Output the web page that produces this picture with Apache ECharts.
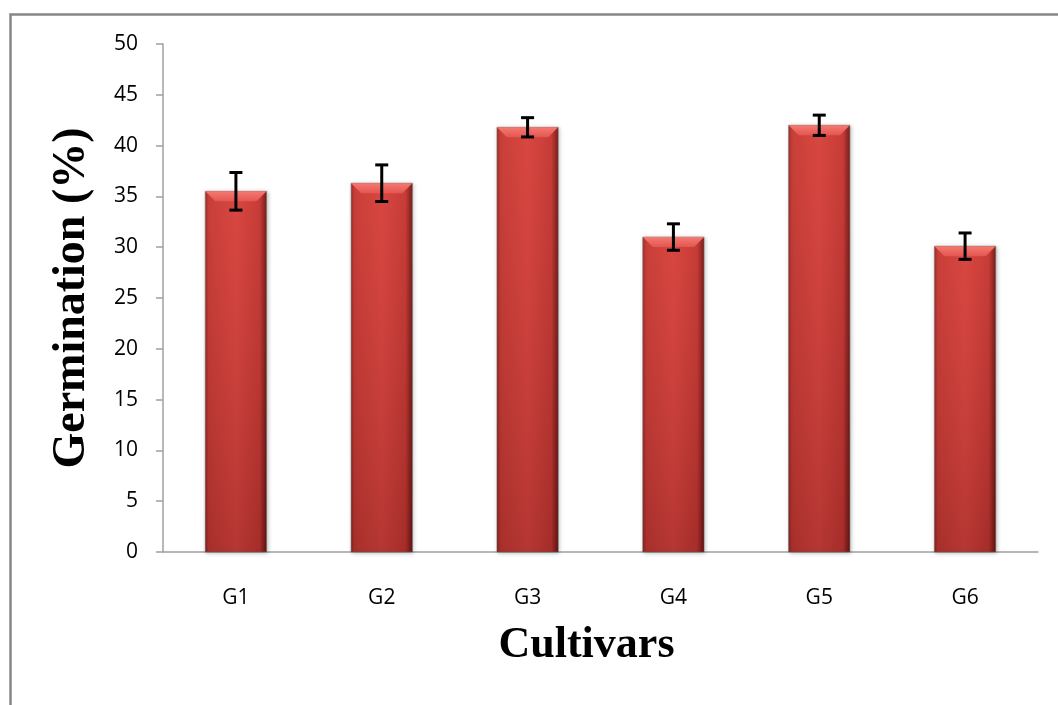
<!DOCTYPE html>
<html>
<head>
<meta charset="utf-8">
<script src="https://cdn.jsdelivr.net/npm/echarts@6/dist/echarts.min.js"></script>
<style>html,body{margin:0;padding:0;background:#fff}#c{width:1058px;height:705px}</style>
</head>
<body>
<div id="c"></div>
<script>
const categories = ['G1', 'G2', 'G3', 'G4', 'G5', 'G6'];
const germination = [35.5, 36.3, 41.8, 31.0, 42.0, 30.1];
const errors = [1.85, 1.8, 0.95, 1.3, 1.0, 1.3];
const yTicks = { min: 0, max: 50, interval: 5 };

const chart = echarts.init(document.getElementById('c'));

const barData = categories.map((c, i) => [i, germination[i]]);
const errData = categories.map((c, i) => [i, germination[i], errors[i]]);

function renderBar(params, api) {
  const i = api.value(0), v = api.value(1);
  const top = api.coord([i, v]);
  const base = api.coord([i, 0]);
  const w = api.size([1, 0])[0] * 0.42;
  const x0 = top[0] - w / 2, x1 = top[0] + w / 2;
  const y0 = top[1], y1 = base[1];
  const b = 10;
  return {
    type: 'group',
    children: [
      { type: 'rect', shape: { x: x0, y: y0, width: w, height: y1 - y0 },
        style: { fill: new echarts.graphic.LinearGradient(0, 0, 1, 0, [
          { offset: 0, color: '#8e2522' }, { offset: 0.06, color: '#c23b36' },
          { offset: 0.5, color: '#d3443f' }, { offset: 0.88, color: '#bf3834' },
          { offset: 1, color: '#621513' }]),
          stroke: 'rgba(110,110,110,0.55)', lineWidth: 1,
          shadowBlur: 4, shadowColor: 'rgba(0,0,0,0.25)', shadowOffsetX: 1, shadowOffsetY: 1 } },
      { type: 'rect', shape: { x: x0, y: y0, width: w, height: y1 - y0 },
        style: { fill: new echarts.graphic.LinearGradient(0, 0, 0, 1, [
          { offset: 0, color: 'rgba(255,90,80,0.12)' }, { offset: 1, color: 'rgba(60,0,0,0.2)' }]) } },
      { type: 'polygon', shape: { points: [[x0, y0], [x1, y0], [x1 - b, y0 + b], [x0 + b, y0 + b]] },
        style: { fill: new echarts.graphic.LinearGradient(0, 0, 0, 1, [
          { offset: 0, color: '#f47a73' }, { offset: 1, color: '#e4564f' }]) } }
    ]
  };
}

function renderErr(params, api) {
  const i = api.value(0), v = api.value(1), e = api.value(2);
  const hi = api.coord([i, v + e]);
  const lo = api.coord([i, v - e]);
  const cw = 6.5;
  const style = { stroke: '#000', lineWidth: 3 };
  return {
    type: 'group',
    children: [
      { type: 'line', shape: { x1: hi[0], y1: hi[1], x2: lo[0], y2: lo[1] }, style },
      { type: 'line', shape: { x1: hi[0] - cw, y1: hi[1], x2: hi[0] + cw, y2: hi[1] }, style },
      { type: 'line', shape: { x1: lo[0] - cw, y1: lo[1], x2: lo[0] + cw, y2: lo[1] }, style }
    ]
  };
}

chart.setOption({
  animation: false,
  backgroundColor: '#fff',
  graphic: [{
    type: 'rect', left: 8, top: 12, z: -10,
    shape: { width: 1070, height: 720 },
    style: { fill: 'none', stroke: '#878787', lineWidth: 2.5 }
  }],
  grid: { left: 163, right: 20, top: 44, bottom: 153 },
  xAxis: {
    type: 'category',
    data: categories,
    name: 'Cultivars',
    nameLocation: 'middle',
    nameGap: 72,
    nameTextStyle: { fontFamily: 'Liberation Serif', fontWeight: 'bold', fontSize: 44, color: '#000', padding: [0, 28, 0, 0] },
    axisLine: { show: true, lineStyle: { color: '#a0a0a0', width: 1.5 } },
    axisTick: { show: false },
    axisLabel: { margin: 36, fontFamily: 'Open Sans', fontSize: 21, color: '#000' }
  },
  yAxis: {
    type: 'value',
    min: yTicks.min, max: yTicks.max, interval: yTicks.interval,
    name: 'Germination (%)',
    nameLocation: 'middle',
    nameGap: 68,
    nameTextStyle: { fontFamily: 'Liberation Serif', fontWeight: 'bold', fontSize: 46, color: '#000' },
    nameRotate: 90,
    axisLine: { show: true, lineStyle: { color: '#a0a0a0', width: 1.5 } },
    axisTick: { show: true, length: 7, lineStyle: { color: '#a0a0a0', width: 1.5 } },
    splitLine: { show: false },
    axisLabel: { margin: 25, fontFamily: 'Open Sans', fontSize: 21, color: '#000' }
  },
  series: [
    { type: 'custom', renderItem: renderBar, data: barData, encode: { x: 0, y: 1 }, z: 2 },
    { type: 'custom', renderItem: renderErr, data: errData, encode: { x: 0, y: 1 }, z: 3 }
  ]
});
</script>
</body>
</html>
